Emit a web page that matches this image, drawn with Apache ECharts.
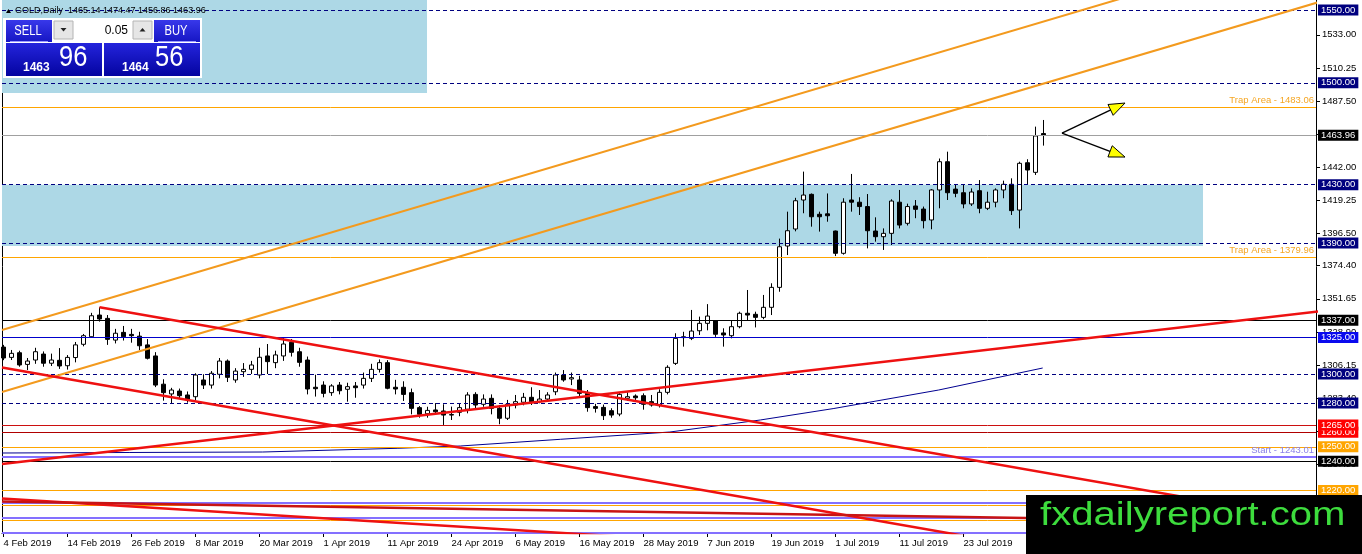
<!DOCTYPE html>
<html><head><meta charset="utf-8">
<script src="https://cdn.jsdelivr.net/npm/echarts@6/dist/echarts.min.js"></script>
<style>html,body{margin:0;padding:0;background:#fff;}#c{width:1362px;height:554px;}</style>
</head><body><div id="c"></div>
<script>
const FONT = "'Liberation Sans', Arial, 'Noto Sans', sans-serif";

// ---------- DATA ----------
const tickBars  = [0, 8, 16, 24, 32, 40, 48, 56, 64, 72, 80, 88, 96, 104, 112, 120];
const tickDates = ['4 Feb 2019','14 Feb 2019','26 Feb 2019','8 Mar 2019','20 Mar 2019','1 Apr 2019',
  '11 Apr 2019','24 Apr 2019','6 May 2019','16 May 2019','28 May 2019','7 Jun 2019','19 Jun 2019',
  '1 Jul 2019','11 Jul 2019','23 Jul 2019'];
const priceTicks = [1533.00,1510.25,1487.50,1464.75,1442.00,1419.25,1396.50,1374.40,1351.65,1328.90,
  1306.15,1283.40,1260.65,1237.90,1215.15];

const open = [
1318.5,1311.4,1314.6,1306.6,1309.6,1313.7,1307.4,1309.4,1305.7,1311.3,
1320.4,1325.6,1340.5,1338.2,1323.3,1328.6,1327.2,1326.0,1320.0,1312.4,
1293.0,1286.3,1288.3,1285.6,1284.4,1295.9,1292.4,1299.8,1308.9,1295.9,
1301.6,1303.2,1299.3,1312.4,1307.8,1312.4,1321.8,1315.3,1309.6,1290.9,
1292.4,1287.2,1292.4,1289.5,1291.8,1292.4,1297.0,1303.2,1307.8,1290.9,
1290.9,1287.2,1276.9,1272.7,1275.3,1274.6,1271.8,1273.7,1275.8,1286.0,
1279.2,1283.3,1276.4,1269.6,1278.7,1280.6,1284.0,1281.0,1282.8,1287.8,
1299.3,1296.6,1295.9,1286.7,1277.6,1277.1,1274.8,1272.5,1283.3,1284.9,
1285.1,1281.0,1278.7,1287.4,1307.3,1325.0,1324.5,1329.7,1334.8,1336.4,
1328.2,1326.3,1332.5,1341.7,1341.0,1338.9,1345.8,1359.5,1387.9,1399.6,
1419.5,1423.4,1409.7,1410.0,1398.2,1382.9,1419.5,1418.0,1415.0,1398.2,
1394.3,1396.6,1418.0,1403.5,1415.4,1413.3,1405.8,1426.4,1445.8,1427.0,
1424.5,1416.8,1425.9,1413.8,1418.0,1426.4,1430.3,1412.6,1445.1,1438.5,
1465.14];
const close = [
1311.0,1314.2,1306.2,1308.9,1315.3,1307.4,1309.6,1305.5,1311.4,1320.0,
1326.3,1340.0,1337.8,1323.8,1328.0,1325.6,1326.3,1319.4,1310.8,1292.4,
1287.2,1289.0,1285.1,1282.6,1299.3,1292.4,1300.5,1308.9,1297.7,1302.0,
1303.2,1306.2,1311.5,1308.5,1313.1,1320.6,1314.9,1308.0,1289.7,1289.9,
1286.7,1291.8,1288.5,1291.3,1290.6,1297.0,1303.2,1307.8,1290.2,1289.7,
1286.0,1276.4,1272.3,1275.0,1274.1,1271.8,1272.2,1276.9,1285.6,1278.7,
1282.8,1276.4,1269.6,1279.2,1281.0,1284.0,1281.0,1282.8,1285.6,1299.3,
1295.9,1297.5,1286.7,1276.9,1276.4,1271.4,1271.8,1286.0,1284.4,1283.7,
1279.2,1278.7,1287.4,1304.6,1324.5,1325.6,1329.5,1334.8,1339.8,1327.3,
1326.8,1332.5,1341.7,1340.5,1338.9,1345.8,1359.5,1387.4,1398.4,1419.0,
1422.9,1408.0,1408.0,1408.7,1382.9,1418.0,1418.0,1415.0,1398.4,1394.3,
1396.6,1418.8,1402.3,1415.0,1413.1,1405.3,1426.4,1445.8,1424.5,1424.1,
1416.8,1425.0,1413.8,1418.0,1426.4,1430.3,1412.2,1444.7,1440.1,1463.5,
1463.96];
const high = [
1320.0,1316.5,1316.0,1311.0,1318.0,1315.5,1314.0,1317.8,1313.0,1322.0,
1327.5,1342.0,1345.8,1340.5,1331.0,1333.0,1331.0,1329.0,1324.0,1315.0,
1296.4,1290.5,1290.0,1288.0,1300.5,1299.8,1302.0,1311.0,1310.0,1304.0,
1307.5,1309.0,1318.0,1320.6,1316.0,1325.0,1324.0,1318.0,1312.0,1299.5,
1295.0,1293.0,1294.5,1294.0,1294.5,1301.0,1307.0,1310.0,1309.5,1296.0,
1295.0,1290.0,1278.0,1277.5,1280.0,1279.2,1277.6,1280.0,1287.5,1287.5,
1286.0,1286.0,1278.7,1282.2,1285.6,1287.0,1290.9,1289.0,1287.5,1301.0,
1302.7,1301.0,1298.8,1289.0,1279.5,1279.0,1276.5,1287.0,1287.5,1286.0,
1286.7,1285.6,1289.5,1306.0,1328.0,1329.0,1344.0,1339.4,1348.0,1337.0,
1331.4,1337.0,1342.8,1357.7,1342.8,1354.3,1362.3,1393.0,1411.5,1421.0,
1439.0,1424.0,1411.5,1424.0,1398.5,1420.7,1437.4,1421.4,1423.6,1407.6,
1400.0,1420.0,1426.4,1417.0,1419.5,1415.0,1427.0,1448.0,1452.7,1429.8,
1429.8,1427.5,1433.2,1425.2,1427.5,1432.8,1434.4,1445.8,1447.5,1469.9,
1474.47];
const low = [
1309.5,1309.6,1305.0,1302.7,1307.0,1305.0,1305.5,1303.5,1303.0,1308.0,
1319.0,1325.0,1336.0,1320.0,1321.0,1323.0,1321.5,1316.5,1310.0,1291.0,
1281.7,1280.0,1283.0,1280.3,1282.0,1289.7,1290.0,1297.0,1294.5,1294.0,
1298.0,1300.0,1297.0,1300.0,1304.0,1309.0,1312.0,1305.0,1286.0,1284.5,
1284.0,1285.0,1286.0,1281.0,1283.7,1290.0,1294.5,1301.0,1289.5,1286.0,
1281.5,1272.3,1270.0,1270.0,1272.3,1265.0,1268.4,1271.0,1273.0,1276.0,
1277.5,1272.3,1265.5,1268.4,1276.4,1278.5,1278.7,1279.9,1281.0,1285.5,
1294.7,1292.4,1284.4,1274.1,1273.5,1268.4,1270.0,1271.0,1281.5,1282.0,
1275.5,1277.6,1277.0,1286.0,1306.2,1318.8,1323.3,1326.8,1330.0,1325.5,
1318.8,1324.5,1331.4,1337.0,1332.0,1337.6,1340.5,1356.5,1381.7,1398.0,
1410.4,1401.2,1397.8,1404.6,1381.0,1382.0,1411.5,1409.2,1386.3,1390.9,
1385.2,1388.6,1400.0,1402.0,1407.0,1400.0,1399.4,1413.8,1419.5,1421.4,
1413.8,1415.4,1410.4,1412.6,1414.5,1420.7,1409.2,1400.0,1429.8,1436.7,
1456.86];

// moving average readings [bar, price]
const maPoints = [[-0.19,1245.74],[15.8,1246.09],[32.4,1246.43],[49.2,1248.97],[57.1,1250.55],
  [69.6,1255.15],[83.3,1260.16],[94.6,1268.41],[103.8,1276.31],[116.9,1289.01],[129.9,1304.12]];

// horizontal levels
const dashedLevels = [1550, 1500, 1430, 1390, 1300, 1280];
const solidLevels  = [1463.96, 1337, 1325, 1260, 1265, 1250, 1240, 1220];
const trapLevels   = [1483.06, 1379.96];
const startLevel   = 1243.01;
const purpleLevels = [1211.4, 1201.1, 1191.2];
const orangeLevels = [1210.0, 1199.8];

// rectangles [barFrom, barTo, priceLow, priceHigh]
const rectTopLeft = [-0.19, 52.94, 1493.0, 1557.0];
const rectZone    = [-0.19, 149.94, 1388.0, 1430.0];

// trend lines [[bar, price], [bar, price]]
const orangeUpper = [[-0.19, 1330.2], [141.2, 1560.3]];
const orangeLower = [[-0.19, 1287.6], [170, 1564.5]];
const redUpper    = [[12, 1345.8], [170, 1193.9]];
const redLower    = [[-0.19, 1304.5], [130, 1179.3]];
const redRising   = [[-0.19, 1238.2], [170, 1346.6]];
const redBottomA  = [[-0.19, 1214.5], [80, 1187.4]];
const redBottomB  = [[-0.19, 1212.5], [127.81, 1201.1]];

// arrows [barFrom, priceFrom, barTo, priceTo]
const arrows = [[132.31, 1465.5, 140.19, 1486.1], [132.31, 1465.5, 140.19, 1449.0]];

// panel texts
const headerText = 'GOLD,Daily  1465.14 1474.47 1456.86 1463.96';
const sellBig = '1463', sellPips = '96', buyBig = '1464', buyPips = '56', lotText = '0.05';

// ---------- STYLES ----------
const solidStyle = {
  1463.96: {line:'#a0a0a0', bg:'#000000'},
  1337:    {line:'#000000', bg:'#000000'},
  1325:    {line:'#0000cc', bg:'#0a0aee'},
  1265:    {line:'#cc1010', bg:'#ff0000'},
  1260:    {line:'#b00000', bg:'#ff0000'},
  1250:    {line:'#ffa500', bg:'#ffa500'},
  1240:    {line:'#000000', bg:'#000000'},
  1220:    {line:'#ffa500', bg:'#ffa500'}
};
const X_MIN = -0.1875, X_MAX = 164.0625, Y_MIN = 1190.8, Y_MAX = 1556.87;
const axisLab = {fontSize: 9.5, fontFamily: FONT, color: '#000'};
function boxLabel(v, bg) {
  return {show:true, position:'end', distance:2, formatter: v.toFixed(2), backgroundColor: bg,
    color:'#fff', padding:[1,3,0,3], lineHeight:10, fontSize:9.5, fontFamily:FONT};
}

const markLines = [];
dashedLevels.forEach(v => markLines.push({yAxis:v, lineStyle:{color:'#000080', type:[4,3], width:1}, label: boxLabel(v, '#00007f')}));
purpleLevels.forEach(v => markLines.push({yAxis:v, lineStyle:{color:'#8470ff', type:'solid', width:2}, label:{show:false}}));
orangeLevels.forEach(v => markLines.push({yAxis:v, lineStyle:{color:'#ffa500', type:'solid', width:1}, label:{show:false}}));
markLines.push({yAxis:startLevel, lineStyle:{color:'#8470ff', type:'solid', width:2},
  label:{show:true, position:'insideEndTop', distance:2, formatter:'Start - ' + startLevel.toFixed(2), color:'#8a80e8', fontSize:9.5, fontFamily:FONT}});
trapLevels.forEach(v => markLines.push({yAxis:v, lineStyle:{color:'#ffa500', type:'solid', width:1},
  label:{show:true, position:'insideEndTop', distance:2, formatter:'Trap Area - ' + v.toFixed(2), color:'#f5a623', fontSize:9.5, fontFamily:FONT}}));
solidLevels.forEach(v => markLines.push({yAxis:v, lineStyle:{color:solidStyle[v].line, type:'solid', width:1}, label: boxLabel(v, solidStyle[v].bg)}));

function trend(points, color, width, z) {
  return {type:'line', data: points, symbol:'none', showSymbol:false, silent:true, z: z || 5,
    lineStyle:{color: color, width: width}, clip:true};
}

const hdrGrad = {type:'linear', x:0, y:0, x2:0, y2:1, colorStops:[{offset:0,color:'#3838ea'},{offset:1,color:'#1616c4'}]};
const boxGrad = {type:'linear', x:0, y:0, x2:0, y2:1, colorStops:[{offset:0,color:'#2424dc'},{offset:1,color:'#0404a0'}]};
function txt(x, y, text, font, fill, align, sx) {
  return {type:'text', x:x, y:y, scaleX: sx || 1, z:100, silent:true,
    style:{text:text, font:font, fill:fill, align:align, textAlign:align, verticalAlign:'middle', textVerticalAlign:'middle'}};
}
const graphics = [
  {type:'polygon', z:100, shape:{points:[[6,13],[11,13],[8.5,9]]}, style:{fill:'#000'}},
  txt(15, 11, headerText, '9px ' + FONT, '#000', 'left'),
  {type:'rect', z:100, shape:{x:3,y:18,width:199,height:60}, style:{fill:'#fff'}},
  {type:'rect', z:100, shape:{x:6,y:20,width:46,height:22}, style:{fill:hdrGrad}},
  {type:'line', z:100, shape:{x1:10,y1:41.5,x2:48,y2:41.5}, style:{stroke:'#9a9aff', lineWidth:1}},
  txt(28, 31, 'SELL', '14px ' + FONT, '#fff', 'center', 0.8),
  {type:'rect', z:100, shape:{x:54,y:21,width:19,height:18}, style:{fill:'#e6e6e6', stroke:'#b4b4b4', lineWidth:1}},
  {type:'polygon', z:100, shape:{points:[[60.5,28],[66.5,28],[63.5,31.5]]}, style:{fill:'#222'}},
  txt(128, 31, lotText, '12px ' + FONT, '#000', 'right'),
  {type:'rect', z:100, shape:{x:133,y:21,width:19,height:18}, style:{fill:'#e6e6e6', stroke:'#b4b4b4', lineWidth:1}},
  {type:'polygon', z:100, shape:{points:[[139.5,31.5],[145.5,31.5],[142.5,28]]}, style:{fill:'#222'}},
  {type:'rect', z:100, shape:{x:154,y:20,width:46,height:22}, style:{fill:hdrGrad}},
  {type:'line', z:100, shape:{x1:158,y1:41.5,x2:196,y2:41.5}, style:{stroke:'#9a9aff', lineWidth:1}},
  txt(176, 31, 'BUY', '14px ' + FONT, '#fff', 'center', 0.8),
  {type:'rect', z:100, shape:{x:6,y:43,width:96,height:33}, style:{fill:boxGrad}},
  {type:'rect', z:100, shape:{x:104,y:43,width:96,height:33}, style:{fill:boxGrad}},
  txt(23, 68, sellBig, 'bold 12px ' + FONT, '#fff', 'left'),
  txt(59, 58, sellPips, '30px ' + FONT, '#fff', 'left', 0.85),
  txt(122, 68, buyBig, 'bold 12px ' + FONT, '#fff', 'left'),
  txt(155, 58, buyPips, '30px ' + FONT, '#fff', 'left', 0.85),
  {type:'rect', z:100, shape:{x:1026,y:495,width:336,height:59}, style:{fill:'#000'}},
  txt(1040, 515.5, 'fxdailyreport.com', '34px ' + FONT, '#3ddc3d', 'left', 1.18)
];

const chart = echarts.init(document.getElementById('c'), null, {renderer:'canvas'});
chart.setOption({
  animation:false,
  backgroundColor:'#ffffff',
  grid:{left:2, right:46, top:0, bottom:21},
  xAxis:[{type:'value', min:X_MIN, max:X_MAX,
    axisLine:{show:true, onZero:false, lineStyle:{color:'#000', width:1}},
    axisTick:{show:true, customValues:tickBars, length:4, lineStyle:{color:'#000'}},
    axisLabel:Object.assign({show:true, customValues:tickBars, align:'left', margin:5,
      formatter:v => tickDates[tickBars.indexOf(Math.round(v))] || ''}, axisLab),
    splitLine:{show:false}}],
  yAxis:[
    {type:'value', position:'right', min:Y_MIN, max:Y_MAX,
      axisLine:{show:true, onZero:false, lineStyle:{color:'#000', width:1}},
      axisTick:{show:true, customValues:priceTicks, length:4, lineStyle:{color:'#000'}},
      axisLabel:Object.assign({customValues:priceTicks, margin:6, formatter:v => v.toFixed(2)}, axisLab),
      splitLine:{show:false}},
    {type:'value', position:'left', min:Y_MIN, max:Y_MAX,
      axisLine:{show:true, onZero:false, lineStyle:{color:'#000', width:1}},
      axisTick:{show:false}, axisLabel:{show:false}, splitLine:{show:false}}
  ],
  series:[
    {type:'line', data:[], z:1, silent:true,
      markArea:{silent:true, itemStyle:{color:'#add8e6'}, data:[
        [{coord:[rectTopLeft[0], rectTopLeft[2]]}, {coord:[rectTopLeft[1], rectTopLeft[3]]}],
        [{coord:[rectZone[0], rectZone[2]]}, {coord:[rectZone[1], rectZone[3]]}]
      ]}},
    {type:'line', data:maPoints, symbol:'none', showSymbol:false, silent:true, z:2,
      lineStyle:{color:'#000090', width:1}},
    {type:'candlestick', z:3, silent:true, barWidth:5,
      data: open.map((o, i) => [i, o, close[i], low[i], high[i]]),
      encode:{x:0, y:[1,2,3,4]},
      itemStyle:{color:'#ffffff', color0:'#000000', borderColor:'#000000', borderColor0:'#000000', borderWidth:1}},
    {type:'line', data:[], z:4, silent:true,
      markLine:{silent:true, symbol:'none', animation:false, data: markLines}},
    trend(orangeUpper, '#f39a1e', 2),
    trend(orangeLower, '#f39a1e', 2),
    trend(redUpper, '#ee1111', 2.5),
    trend(redLower, '#ee1111', 2.5),
    trend(redRising, '#ee1111', 2.5),
    trend(redBottomA, '#ee1111', 2.5),
    trend(redBottomB, '#c81414', 2.5),
    {type:'custom', z:6, silent:true, clip:false, data: arrows, encode:{x:[0,2], y:[1,3]},
      renderItem:(params, api) => {
        const a = api.coord([api.value(0), api.value(1)]);
        const b = api.coord([api.value(2), api.value(3)]);
        const dx = b[0]-a[0], dy = b[1]-a[1], len = Math.hypot(dx, dy);
        const ux = dx/len, uy = dy/len, L = 16, W = 6;
        const bx = b[0]-ux*L, by = b[1]-uy*L;
        return {type:'group', children:[
          {type:'line', shape:{x1:a[0], y1:a[1], x2:bx+ux*2, y2:by+uy*2}, style:{stroke:'#000', lineWidth:1.4}},
          {type:'polygon', shape:{points:[[b[0],b[1]],[bx-uy*W,by+ux*W],[bx+uy*W,by-ux*W]]},
            style:{fill:'#ffff00', stroke:'#000', lineWidth:1}}
        ]};
      }}
  ],
  graphic:{elements: graphics}
});
</script></body></html>
